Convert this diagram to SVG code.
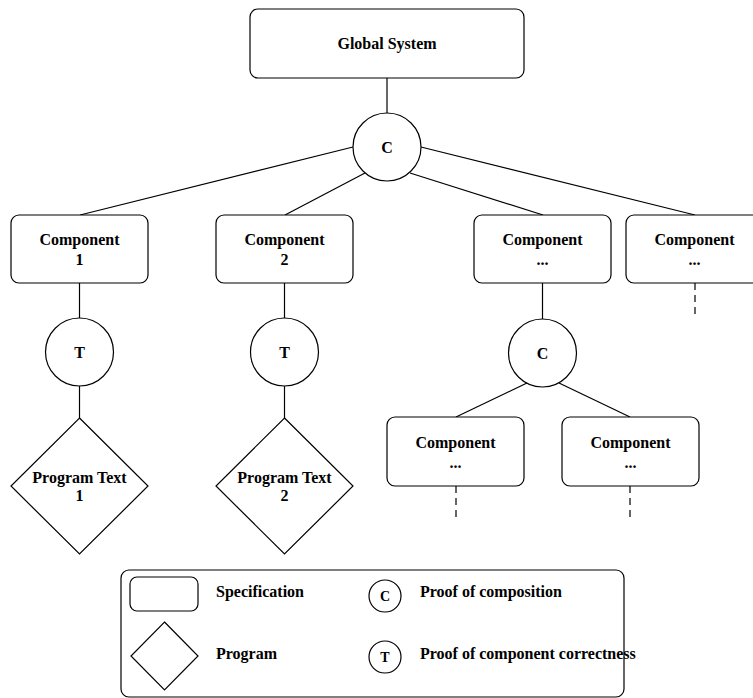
<svg xmlns="http://www.w3.org/2000/svg" width="753" height="698" viewBox="0 0 753 698">
  <style>
    .shape { fill: #ffffff; stroke: #000000; stroke-width: 1.2; }
    .edge { fill: none; stroke: #000000; stroke-width: 1.2; }
    .dash { fill: none; stroke: #000000; stroke-width: 1.2; stroke-dasharray: 7 5; }
    .lbl { font-family: "Liberation Serif", "Times New Roman", serif; font-weight: bold; font-size: 16px; fill: #000000; text-anchor: middle; }
    .key { font-family: "Liberation Serif", "Times New Roman", serif; font-weight: bold; font-size: 16px; fill: #000000; }
    .small { font-family: "Liberation Serif", "Times New Roman", serif; font-weight: bold; font-size: 14px; fill: #000000; text-anchor: middle; }
  </style>
  <rect width="753" height="698" fill="#ffffff"/>

  <!-- connectors -->
  <g id="connectors">
    <line class="edge" x1="387" y1="78" x2="387" y2="113"/>
    <line class="edge" x1="353" y1="147" x2="80" y2="215"/>
    <line class="edge" x1="365" y1="173" x2="285" y2="215"/>
    <line class="edge" x1="410" y1="173" x2="543" y2="215"/>
    <line class="edge" x1="421" y1="147" x2="695" y2="215"/>
    <line class="edge" x1="79.5" y1="283" x2="79.5" y2="318"/>
    <line class="edge" x1="79.5" y1="386" x2="79.5" y2="418"/>
    <line class="edge" x1="284.5" y1="283" x2="284.5" y2="318"/>
    <line class="edge" x1="284.5" y1="386" x2="284.5" y2="418"/>
    <line class="edge" x1="542.5" y1="283" x2="542.5" y2="319"/>
    <line class="edge" x1="527" y1="383" x2="456" y2="417"/>
    <line class="edge" x1="559" y1="383" x2="630" y2="417"/>
    <line class="dash" x1="695" y1="283" x2="695" y2="319"/>
    <line class="dash" x1="456" y1="486" x2="456" y2="522"/>
    <line class="dash" x1="630" y1="486" x2="630" y2="522"/>
  </g>

  <g id="global-system">
    <rect class="shape" x="250" y="9" width="274" height="69" rx="8"/>
    <text class="lbl" x="387" y="49">Global System</text>
  </g>

  <g id="compose-top">
    <circle class="shape" cx="387" cy="147" r="34"/>
    <text class="lbl" x="387" y="153">C</text>
  </g>

  <g id="component-1">
    <rect class="shape" x="11" y="215" width="137" height="68" rx="8"/>
    <text class="lbl" x="79.5" y="245">Component</text>
    <text class="lbl" x="79.5" y="265">1</text>
  </g>

  <g id="component-2">
    <rect class="shape" x="216" y="215" width="137" height="68" rx="8"/>
    <text class="lbl" x="284.5" y="245">Component</text>
    <text class="lbl" x="284.5" y="265">2</text>
  </g>

  <g id="component-3">
    <rect class="shape" x="474" y="215" width="137" height="68" rx="8"/>
    <text class="lbl" x="542.5" y="245">Component</text>
    <text class="lbl" x="542.5" y="265">...</text>
  </g>

  <g id="component-4">
    <rect class="shape" x="626" y="215" width="137" height="68" rx="8"/>
    <text class="lbl" x="694.5" y="245">Component</text>
    <text class="lbl" x="694.5" y="265">...</text>
  </g>

  <g id="test-1">
    <circle class="shape" cx="79.5" cy="352" r="34"/>
    <text class="lbl" x="79.5" y="358">T</text>
  </g>

  <g id="test-2">
    <circle class="shape" cx="284.5" cy="352" r="34"/>
    <text class="lbl" x="284.5" y="358">T</text>
  </g>

  <g id="compose-sub">
    <circle class="shape" cx="542.5" cy="353" r="34"/>
    <text class="lbl" x="542.5" y="359">C</text>
  </g>

  <g id="program-1">
    <polygon class="shape" points="79.5,418 148,486 79.5,554 11,486"/>
    <text class="lbl" x="79.5" y="483">Program Text</text>
    <text class="lbl" x="79.5" y="501">1</text>
  </g>

  <g id="program-2">
    <polygon class="shape" points="284.5,418 353,486 284.5,554 216,486"/>
    <text class="lbl" x="284.5" y="483">Program Text</text>
    <text class="lbl" x="284.5" y="501">2</text>
  </g>

  <g id="component-3a">
    <rect class="shape" x="387" y="417" width="137" height="69" rx="8"/>
    <text class="lbl" x="455.5" y="448">Component</text>
    <text class="lbl" x="455.5" y="468">...</text>
  </g>

  <g id="component-3b">
    <rect class="shape" x="562" y="417" width="137" height="69" rx="8"/>
    <text class="lbl" x="630.5" y="448">Component</text>
    <text class="lbl" x="630.5" y="468">...</text>
  </g>

  <!-- legend -->
  <g id="legend">
    <rect class="shape" x="121" y="570" width="503" height="127" rx="8"/>
    <rect class="shape" x="130" y="577" width="68" height="34" rx="7"/>
    <text class="key" x="216" y="597">Specification</text>
    <polygon class="shape" points="164.5,622 198,656 164.5,690 131,656"/>
    <text class="key" x="216" y="659">Program</text>
    <circle class="shape" cx="385" cy="596" r="16"/>
    <text class="small" x="385" y="601">C</text>
    <text class="key" x="420" y="597">Proof of composition</text>
    <circle class="shape" cx="385" cy="657" r="16"/>
    <text class="small" x="385" y="662">T</text>
    <text class="key" x="420" y="659">Proof of component correctness</text>
  </g>
</svg>
